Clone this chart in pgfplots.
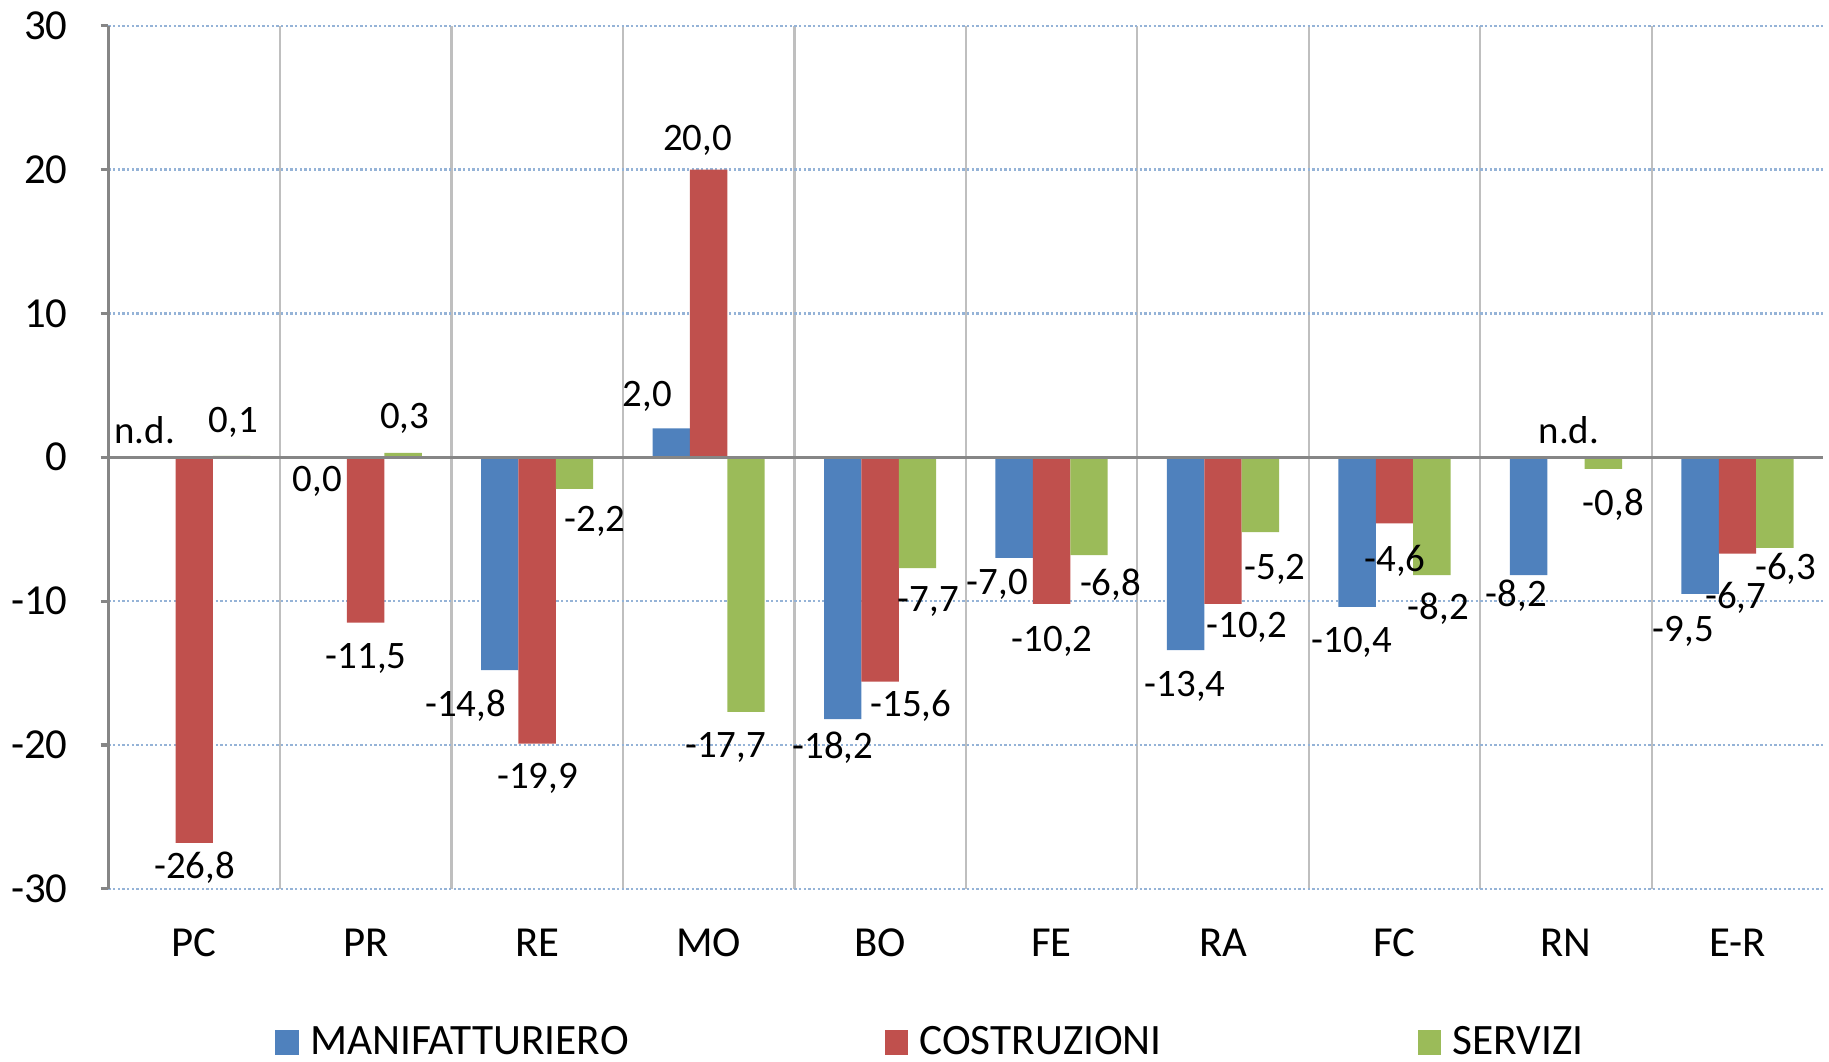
\documentclass[border=0pt]{standalone}
\usepackage{pgfplots}
\pgfplotsset{compat=1.18}
\usepackage{fontspec}
\setmainfont{Carlito}
\definecolor{cblue}{HTML}{4F81BD}
\definecolor{cred}{HTML}{C0504D}
\definecolor{cgreen}{HTML}{9BBB59}
\definecolor{gridblue}{HTML}{95B3D7}
\definecolor{sepgray}{HTML}{BFBFBF}
\definecolor{axisgray}{HTML}{868686}
\begin{document}
\begin{tikzpicture}
\begin{axis}[
  scale only axis, width=441pt, height=222pt,
  xmin=-0.5, xmax=9.5, ymin=-30, ymax=30,
  axis x line*=bottom, axis y line*=left,
  x axis line style={draw=none},
  y axis line style={-, draw=axisgray, line width=0.8pt},
  xtick={0,...,9},
  xticklabels={PC,PR,RE,MO,BO,FE,RA,FC,RN,E-R},
  xtick style={draw=none},
  xticklabel style={font=\fontsize{11}{13}\selectfont, yshift=-4.8pt},
  minor xtick={0.5,1.5,...,8.5},
  xminorgrids, minor tick length=0pt,
  minor grid style={draw=sepgray, line width=0.6pt},
  ytick={-30,-20,-10,0,10,20,30},
  yticklabels={-30,-20,-10,0,10,20,30},
  yticklabel style={font=\fontsize{11}{13}\selectfont, xshift=-5pt},
  ytick style={draw=axisgray, line width=0.8pt},
  tick align=outside, major tick length=2pt,
  ymajorgrids,
  major grid style={draw=gridblue, line width=0.6pt, dash pattern=on 0.6pt off 0.6pt},
  legend columns=3,
  legend style={at={(rel axis cs:0.0973,-0.1785)}, anchor=west, draw=none, fill=none,
    inner sep=0pt, outer sep=0pt,
    nodes={inner sep=0pt, font=\fontsize{11.15}{13}\selectfont},
    /tikz/every odd column/.append style={column sep=3pt},
    /tikz/every even column/.append style={column sep=65.8pt}},
  legend image code/.code={\fill[#1] (0pt,-3.2pt) rectangle (6pt,3.2pt);},
  clip=false,
]
\addplot[ybar, bar width=0.218, bar shift=-0.218, fill=cblue, draw=none]
  coordinates {(1,0) (2,-14.8) (3,2.0) (4,-18.2) (5,-7.0) (6,-13.4) (7,-10.4) (8,-8.2) (9,-9.5)};
\addlegendentry{MANIFATTURIERO}
\addplot[ybar, bar width=0.218, bar shift=0, fill=cred, draw=none]
  coordinates {(0,-26.8) (1,-11.5) (2,-19.9) (3,20.0) (4,-15.6) (5,-10.2) (6,-10.2) (7,-4.6) (9,-6.7)};
\addlegendentry{COSTRUZIONI}
\addplot[ybar, bar width=0.218, bar shift=0.218, fill=cgreen, draw=none]
  coordinates {(0,0.1) (1,0.3) (2,-2.2) (3,-17.7) (4,-7.7) (5,-6.8) (6,-5.2) (7,-8.2) (8,-0.8) (9,-6.3)};
\addlegendentry{SERVIZI}
\draw[axisgray, line width=0.8pt] (axis cs:-0.5,0) -- (axis cs:9.5,0);
\begin{scope}[every node/.style={font=\fontsize{10}{12}\selectfont, inner sep=0pt}]
\node at (axis cs:-0.289,1.86) {n.d.};
\node at (axis cs:0.228,2.43) {0,1};
\node at (axis cs:0.718,-1.70) {0,0};
\node at (axis cs:1.228,2.68) {0,3};
\node at (axis cs:0.003,-28.5) {-26,8};
\node at (axis cs:1.003,-14.0) {-11,5};
\node at (axis cs:1.582,-17.3) {-14,8};
\node at (axis cs:2.003,-22.3) {-19,9};
\node at (axis cs:2.337,-4.46) {-2,2};
\node at (axis cs:2.643,4.2) {2,0};
\node at (axis cs:2.935,22.0) {20,0};
\node at (axis cs:3.099,-20.2) {-17,7};
\node at (axis cs:3.724,-20.2) {-18,2};
\node at (axis cs:4.180,-17.3) {-15,6};
\node at (axis cs:4.282,-10.05) {-7,7};
\node at (axis cs:4.684,-8.84) {-7,0};
\node at (axis cs:5.003,-12.8) {-10,2};
\node at (axis cs:5.344,-8.84) {-6,8};
\node at (axis cs:5.779,-15.9) {-13,4};
\node at (axis cs:6.139,-11.8) {-10,2};
\node at (axis cs:6.303,-7.78) {-5,2};
\node at (axis cs:6.752,-12.9) {-10,4};
\node at (axis cs:7.003,-7.2) {-4,6};
\node at (axis cs:7.255,-10.5) {-8,2};
\node at (axis cs:8.017,1.86) {n.d.};
\node at (axis cs:7.711,-9.65) {-8,2};
\node at (axis cs:8.276,-3.32) {-0,8};
\node at (axis cs:8.684,-12.1) {-9,5};
\node at (axis cs:8.990,-9.8) {-6,7};
\node at (axis cs:9.282,-7.78) {-6,3};
\end{scope}
\end{axis}
\pgfresetboundingbox
\path (-27.9pt,-44.4pt) rectangle (442.5pt,228.6pt);
\end{tikzpicture}
\end{document}
